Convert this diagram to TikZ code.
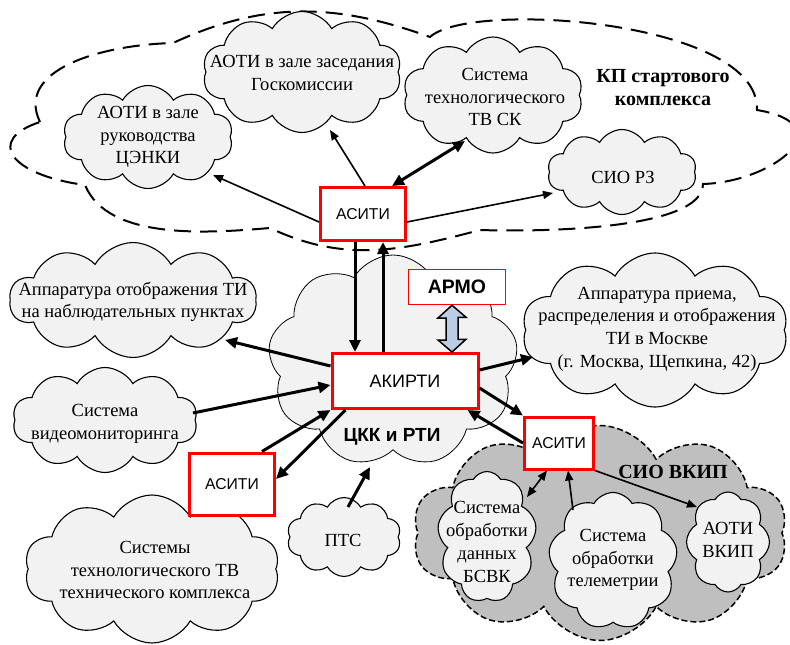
\documentclass[tikz,border=0pt]{standalone}
\usepackage{fontspec}
\setmainfont{Liberation Serif}
\setsansfont{Liberation Sans}
\usetikzlibrary{shapes.symbols,arrows.meta,calc}
\definecolor{cl}{HTML}{F2F2F2}
\definecolor{dk}{HTML}{BFBFBF}
\definecolor{rd}{HTML}{FF0000}
\definecolor{bl}{HTML}{B9CDE5}
\tikzset{
  cld/.style={cloud, cloud puffs=10, cloud puff arc=120, cloud ignores aspect, draw, fill=cl, line width=1.1pt, inner sep=0pt},
  txt/.style={align=center, font=\rmfamily\fontsize{18.5}{22.7}\selectfont, inner sep=0pt},
  lbl/.style={align=center, font=\rmfamily\bfseries\fontsize{20}{23}\selectfont, inner sep=0pt},
  bx/.style={draw=rd, line width=3pt, fill=white, font=\sffamily\fontsize{15.7}{18}\selectfont, inner sep=0pt},
  tarr/.style={line width=1.6pt, -{Triangle[length=10pt,width=8pt]}},
  tdarr/.style={line width=1.6pt, {Triangle[length=10pt,width=8pt]}-{Triangle[length=10pt,width=8pt]}},
  karr/.style={line width=3pt, -{Triangle[length=12pt,width=11pt]}},
  kdarr/.style={line width=3pt, {Triangle[length=12pt,width=11pt]}-{Triangle[length=12pt,width=11pt]}},
}
\begin{document}
\begin{tikzpicture}[x=1pt,y=1pt]
\useasboundingbox (0,0) rectangle (790,-645);
% big dashed cloud (KP)
\draw[line width=2pt, dash pattern=on 17pt off 9pt]
  (40,-122) .. controls (15,-70) and (100,-45) .. (173,-43)
  .. controls (264,-1) and (336,-3) .. (430,-37)
  .. controls (470,0) and (760,-20) .. (757,-110)
  .. controls (845,-125) and (773,-182) .. (703,-184)
  .. controls (703,-230) and (540,-232) .. (480,-230)
  .. controls (401,-251) and (344,-263) .. (270,-228)
  .. controls (210,-233) and (108,-241) .. (85,-185)
  .. controls (10,-175) and (-15,-140) .. (40,-122);
% CKK cloud
\node[cld, cloud puffs=9, line width=0.8pt, minimum width=250pt, minimum height=212pt] (ckk) at (393,-361) {};
% SIO VKIP dark cloud
\node[cld, cloud puffs=10, cloud puff arc=125, fill=dk, line width=1.5pt, dash pattern=on 6pt off 3pt, minimum width=375pt, minimum height=215pt] (vkip) at (600,-533) {};
% light clouds
\node[cld, minimum width=170pt, minimum height=103pt] (cenki) at (148,-137) {};
\node[cld, minimum width=199pt, minimum height=121pt] (gosk) at (302,-72) {};
\node[cld, minimum width=180pt, minimum height=116pt] (tvsk) at (493,-95) {};
\node[cld, minimum width=149pt, minimum height=85pt] (siorz) at (622,-172) {};
\node[cld, minimum width=247pt, minimum height=115pt] (apti) at (133,-300) {};
\node[cld, minimum width=185pt, minimum height=105pt] (video) at (105,-420) {};
\node[cld, minimum width=266pt, minimum height=154pt] (mosc) at (655,-330) {};
\node[cld, minimum width=255pt, minimum height=148pt] (ttv) at (152,-569) {};
\node[cld, minimum width=114pt, minimum height=79pt] (pts) at (344,-537) {};
\node[cld, cloud puffs=9, minimum width=99pt, minimum height=131pt] (bsvk) at (487,-537) {};
\node[cld, cloud puffs=9, minimum width=129pt, minimum height=137pt] (telem) at (613,-561) {};
\node[cld, cloud puffs=8, minimum width=83pt, minimum height=100pt] (avkip) at (728,-542) {};
% texts
\node[txt] (tcenki) at (148,-137) {АОТИ в зале\\руководства\\ЦЭНКИ};
\node[txt] (tgosk) at (302,-73) {АОТИ в зале заседания\\Госкомиссии};
\node[txt] (ttvsk) at (495,-97) {Система\\технологического\\ТВ СК};
\node[txt] (tsiorz) at (623,-177) {СИО РЗ};
\node[lbl] (tkp) at (663,-88) {КП стартового\\комплекса};
\node[txt] (tapti) at (133,-302) {Аппаратура отображения ТИ\\на наблюдательных пунктах};
\node[txt] (tvideo) at (105,-424) {Система\\видеомониторинга};
\node[txt] (tmosc) at (657,-329) {Аппаратура приема,\\распределения и отображения\\ТИ в Москве\\(г. Москва, Щепкина, 42)};
\node[txt] (tttv) at (155,-570) {Системы\\технологического ТВ\\технического комплекса};
\node[txt] (tpts) at (343,-540) {ПТС};
\node[font=\sffamily\bfseries\fontsize{19}{22}\selectfont, inner sep=0pt] (tckk) at (392,-437) {ЦКК и РТИ};
\node[lbl] (tvkip) at (673,-472) {СИО ВКИП};
\node[txt] (tbsvk) at (487,-542) {Система\\обработки\\данных\\БСВК};
\node[txt] (ttelem) at (613,-560) {Система\\обработки\\телеметрии};
\node[txt] (tavkip) at (728,-540) {АОТИ\\ВКИП};
% free ends
\coordinate (cA) at (213,-175);
\coordinate (cB) at (330,-130);
\coordinate (cC) at (465,-141);
\coordinate (cD) at (553,-193);
\coordinate (cG) at (225,-340);
\coordinate (cH) at (193,-413);
\coordinate (cK1) at (348,-507);
\coordinate (cK2) at (370,-467);
\coordinate (cL) at (533,-357);
\coordinate (cO) at (527,-497);
\coordinate (cP) at (573,-510);
\coordinate (cQ) at (697,-507);
% boxes
\node[bx, minimum width=85pt, minimum height=53pt] (asT) at (363,-214) {АСИТИ};
\node[bx, font=\sffamily\fontsize{18}{20}\selectfont, minimum width=146pt, minimum height=55pt] (akirti) at (405,-381) {АКИРТИ};
\node[bx, line width=1.5pt, font=\sffamily\bfseries\fontsize{19.5}{22}\selectfont, minimum width=97pt, minimum height=35pt] (armo) at (457,-287) {АРМО};
\node[bx, minimum width=85pt, minimum height=62pt] (asL) at (232,-484) {АСИТИ};
\node[bx, minimum width=69pt, minimum height=52pt] (asR) at (559,-443) {АСИТИ};
\coordinate (e1) at ([xshift=-8pt]asT.south);
\coordinate (f1) at ([xshift=20pt]asT.south);
% connectors
\draw[tarr] ([yshift=-8pt]asT.west) -- (cA);
\draw[tarr] ([xshift=2pt]asT.north) -- (cB);
\draw[kdarr] ([xshift=-15pt]asT.north east) -- (cC);
\draw[tarr] ([yshift=-8pt]asT.east) -- (cD);
\draw[karr] (e1) -- (e1 |- akirti.north);
\draw[karr] (f1 |- akirti.north) -- (f1);
\draw[karr] ([yshift=15pt]akirti.west) -- (cG);
\draw[karr] (cH) -- ([yshift=-4pt]akirti.west);
\draw[karr] ([xshift=30pt]asL.north) -- (akirti.south west);
\draw[karr] ([xshift=15pt]akirti.south west) -- ([yshift=5pt]asL.east);
\draw[karr] (cK1) -- (cK2);
\draw[karr] ([yshift=11pt]akirti.east) -- (cL);
\draw[karr] ([yshift=-7pt]akirti.east) -- (asR.north west);
\draw[karr] (asR.west) -- ([xshift=-12pt]akirti.south east);
\draw[tdarr] ([xshift=-12pt]asR.south) -- (cO);
\draw[tarr] (cP) -- ([xshift=9pt]asR.south);
\draw[tarr] (asR.south east) -- (cQ);
% ARMO <-> AKIRTI double arrow
\coordinate (dT) at ([xshift=-5pt]armo.south);
\coordinate (dB) at (dT |- akirti.north);
\draw[line width=1.5pt, fill=bl, line join=miter]
  (dT) -- ++(14,-12) -- ++(-8,0) -- ++(0,-22) -- ++(8,0) -- (dB)
  -- ++(-14,12) -- ++(8,0) -- ++(0,22) -- ++(-8,0) -- cycle;
\end{tikzpicture}
\end{document}
